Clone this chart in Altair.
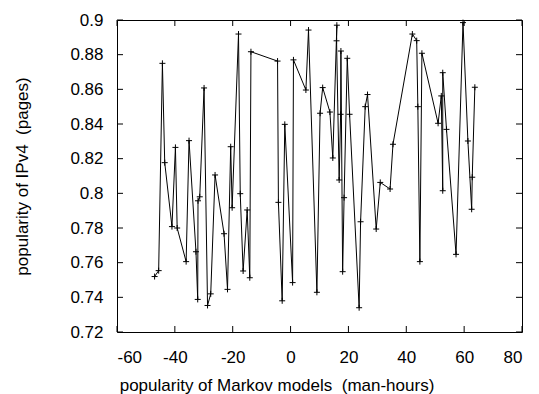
import altair as alt
import pandas as pd

# data (in drawing order)
x_vals = [-47.0, -45.6, -44.3, -43.5, -41.0, -39.8, -39.2, -36.1, -35.1, -32.7,
          -32.1, -32.0, -31.4, -29.9, -28.7, -27.6, -26.1, -23.0, -21.8, -20.7,
          -20.2, -18.0, -17.4, -16.4, -15.0, -14.1, -13.7, -4.5, -4.2, -2.9,
          -2.0, 0.7, 1.0, 5.3, 6.2, 9.1, 10.2, 11.1, 13.6, 14.6,
          16.0, 15.9, 16.8, 17.3, 17.4, 18.0, 18.5, 19.6, 20.4, 23.7,
          24.2, 25.8, 26.6, 29.6, 31.0, 34.4, 35.4, 42.1, 43.6, 44.0,
          44.7, 45.4, 51.0, 52.1, 52.6, 52.6, 53.9, 57.2, 59.6, 61.3,
          62.6, 62.8, 63.7]
y_vals = [0.752, 0.7554, 0.875, 0.8177, 0.7808, 0.8265, 0.780, 0.7606, 0.8304, 0.7663,
          0.7388, 0.7957, 0.798, 0.8608, 0.7353, 0.742, 0.8106, 0.7767, 0.7446, 0.8269,
          0.7917, 0.8919, 0.7998, 0.7552, 0.7904, 0.7513, 0.8817, 0.8763, 0.7948, 0.738,
          0.8398, 0.7485, 0.877, 0.8596, 0.8942, 0.7429, 0.8462, 0.861, 0.8469, 0.8204,
          0.897, 0.888, 0.8077, 0.8456, 0.8821, 0.7548, 0.7975, 0.8779, 0.8456, 0.734,
          0.7836, 0.850, 0.857, 0.7794, 0.8063, 0.8025, 0.8283, 0.8919, 0.8881, 0.850,
          0.7606, 0.8808, 0.8404, 0.8562, 0.8015, 0.8696, 0.8369, 0.7648, 0.8985, 0.8302,
          0.7908, 0.8093, 0.8612]
x_ticks = [-60, -40, -20, 0, 20, 40, 60, 80]
y_ticks = [0.72, 0.74, 0.76, 0.78, 0.8, 0.82, 0.84, 0.86, 0.88, 0.9]

x_title = "popularity of Markov models \u00a0(man-hours)"
y_title = "popularity of IPv4 \u00a0(pages)"

W, H = 405, 312
FONT = "Liberation Sans"

df = pd.DataFrame({"x": x_vals, "y": y_vals, "i": list(range(len(x_vals)))})
xt = pd.DataFrame({"t": x_ticks})
yt = pd.DataFrame({"t": y_ticks})

xscale = alt.Scale(domain=[-60, 80], nice=False, zero=False)
yscale = alt.Scale(domain=[0.72, 0.9], nice=False, zero=False)

common = dict(domain=False, ticks=False, tickSize=0, grid=False, labelOverlap=False,
              labelFont=FONT, labelFontSize=17, labelColor="black",
              titleFont=FONT, titleFontSize=17, titleColor="black",
              titleFontWeight="normal", labelExpr="datum.value + ''")

xaxis = alt.Axis(values=x_ticks, title=x_title,
                 labelPadding=30, labelBaseline="alphabetic",
                 titleX=W / 2 - 43, titleY=58, titleAlign="center",
                 titleBaseline="alphabetic", **common)
yaxis = alt.Axis(values=y_ticks, title=y_title,
                 labelPadding=14, labelBaseline="middle",
                 titleX=-90, titleY=H / 2, titleAngle=270, titleAlign="center",
                 titleBaseline="alphabetic", **common)

line = alt.Chart(df).mark_line(color="black", strokeWidth=1).encode(
    x=alt.X("x:Q", scale=xscale, axis=xaxis),
    y=alt.Y("y:Q", scale=yscale, axis=yaxis),
    order="i:Q",
)
pts = alt.Chart(df).mark_point(shape="M-1,0L1,0M0,-1L0,1", size=36, filled=False,
                               color="black", strokeWidth=1, opacity=1).encode(
    x=alt.X("x:Q", scale=xscale, axis=xaxis),
    y=alt.Y("y:Q", scale=yscale, axis=yaxis),
)

xb = alt.Chart(xt).mark_rule(color="black", strokeWidth=1).encode(
    x=alt.X("t:Q", scale=xscale, axis=xaxis), y=alt.value(H), y2=alt.value(H - 6))
xtop = alt.Chart(xt).mark_rule(color="black", strokeWidth=1).encode(
    x=alt.X("t:Q", scale=xscale, axis=xaxis), y=alt.value(0), y2=alt.value(6))
yl = alt.Chart(yt).mark_rule(color="black", strokeWidth=1).encode(
    y=alt.Y("t:Q", scale=yscale, axis=yaxis), x=alt.value(0), x2=alt.value(6))
yr = alt.Chart(yt).mark_rule(color="black", strokeWidth=1).encode(
    y=alt.Y("t:Q", scale=yscale, axis=yaxis), x=alt.value(W), x2=alt.value(W - 6))

chart = alt.layer(line, pts, xb, xtop, yl, yr).properties(
    width=W, height=H,
    padding={"left": 117, "top": 20, "right": 17, "bottom": 62},
    autosize="none",
    background="white",
).configure_view(
    stroke="black", strokeWidth=1
)

chart.save("out.html", embed_options={"renderer": "svg", "actions": False})
